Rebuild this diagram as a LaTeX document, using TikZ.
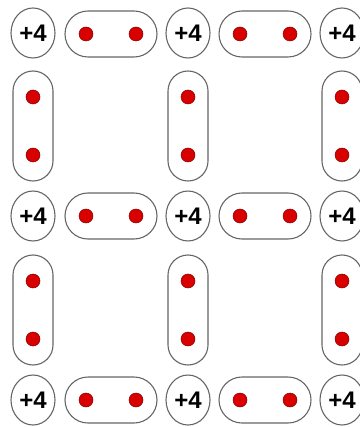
\documentclass[tikz,border=0pt]{standalone}
\usepackage{fontspec}
\setmainfont{Liberation Sans}
\usetikzlibrary{shapes.geometric, calc, positioning}

\tikzset{
  plus/.style={ellipse, draw=black!60, line width=1.1pt, minimum width=44pt, minimum height=50pt, inner sep=0pt, font=\fontsize{24}{26}\selectfont\bfseries},
  hpair/.style={rectangle, draw=black!60, line width=1.1pt, rounded corners=23pt, minimum width=92pt, minimum height=46pt},
  vpair/.style={rectangle, draw=black!60, line width=1.1pt, rounded corners=20pt, minimum width=40pt, minimum height=110pt},
  site/.style={fill=red!85!black, draw=red!50!black, line width=0.5pt}
}

\begin{document}
\begin{tikzpicture}[x=1pt, y=-1pt]
\useasboundingbox (0,0) rectangle (359,427);
% vertices carrying +4
\node[plus] (p11) at (33, 33) {+4};
\node[plus] (p12) at (188, 33) {+4};
\node[plus] (p13) at (342, 33) {+4};
\node[plus] (p21) at (33, 216) {+4};
\node[plus] (p22) at (188, 216) {+4};
\node[plus] (p23) at (342, 216) {+4};
\node[plus] (p31) at (33, 400) {+4};
\node[plus] (p32) at (188, 400) {+4};
\node[plus] (p33) at (342, 400) {+4};
% horizontal bonds
\node[hpair] (h11) at (111, 34) {};
\node[hpair] (h12) at (265, 34) {};
\node[hpair] (h21) at (111, 216) {};
\node[hpair] (h22) at (265, 216) {};
\node[hpair] (h31) at (111, 400) {};
\node[hpair] (h32) at (265, 400) {};
% vertical bonds
\node[vpair] (v11) at (33, 126) {};
\node[vpair] (v12) at (188, 126) {};
\node[vpair] (v13) at (342, 126) {};
\node[vpair] (v21) at (33, 310) {};
\node[vpair] (v22) at (188, 310) {};
\node[vpair] (v23) at (342, 310) {};
% electrons
\draw[site] ($(h11)+(-25,0)$) circle (7) ($(h11)+(25,0)$) circle (7);
\draw[site] ($(h12)+(-25,0)$) circle (7) ($(h12)+(25,0)$) circle (7);
\draw[site] ($(h21)+(-25,0)$) circle (7) ($(h21)+(25,0)$) circle (7);
\draw[site] ($(h22)+(-25,0)$) circle (7) ($(h22)+(25,0)$) circle (7);
\draw[site] ($(h31)+(-25,0)$) circle (7) ($(h31)+(25,0)$) circle (7);
\draw[site] ($(h32)+(-25,0)$) circle (7) ($(h32)+(25,0)$) circle (7);
\draw[site] ($(v11)+(0,-29)$) circle (7) ($(v11)+(0,29)$) circle (7);
\draw[site] ($(v12)+(0,-29)$) circle (7) ($(v12)+(0,29)$) circle (7);
\draw[site] ($(v13)+(0,-29)$) circle (7) ($(v13)+(0,29)$) circle (7);
\draw[site] ($(v21)+(0,-29)$) circle (7) ($(v21)+(0,29)$) circle (7);
\draw[site] ($(v22)+(0,-29)$) circle (7) ($(v22)+(0,29)$) circle (7);
\draw[site] ($(v23)+(0,-29)$) circle (7) ($(v23)+(0,29)$) circle (7);
\end{tikzpicture}
\end{document}
